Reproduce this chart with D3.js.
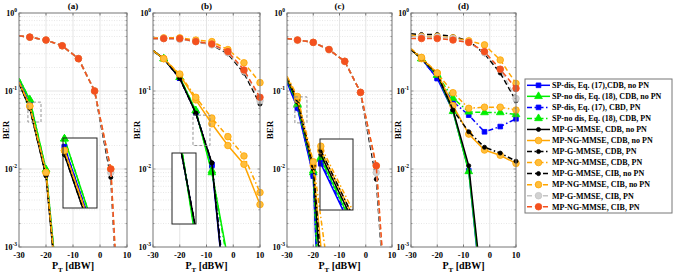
<!DOCTYPE html>
<html>
<head>
<meta charset="utf-8">
<script src="https://cdn.jsdelivr.net/npm/d3@7"></script>
<style>
body { margin: 0; background: #fff; }
text { font-family: "Liberation Serif", "Times New Roman", serif; font-weight: bold; fill: #000; }
</style>
</head>
<body>
<svg id="chart"></svg>
<script>
// transmit power points (dBW)
const powerDbw = [-30, -26, -20, -14, -8, -2, 4, 10];

const seriesNames = [
    'SP-dis, Eq. (17),CDB, no PN',
    'SP-no dis, Eq. (18), CDB, no PN',
    'SP-dis, Eq. (17), CBD, PN',
    'SP-no dis, Eq. (18), CDB, PN',
    'MP-G-MMSE, CDB, no PN',
    'MP-NG-MMSE, CDB, no PN',
    'MP-G-MMSE, CDB, PN',
    'MP-NG-MMSE, CDB, PN',
    'MP-G-MMSE, CIB, no PN',
    'MP-NG-MMSE, CIB, no PN',
    'MP-G-MMSE, CIB, PN',
    'MP-NG-MMSE, CIB, PN'
];

const panelTitles = ['(a)', '(b)', '(c)', '(d)'];
const xTicks = [-30, -20, -10, 0, 10];
const yTicks = [1e-3, 1e-2, 1e-1, 1];
const yExponents = ['-3', '-2', '-1', '0'];

// BER per panel, one row per series (legend order), null = off the chart
const berA = [
    [0.135, 0.068, 0.0092, 6e-5, null, null, null, null],
    [0.145, 0.077, 0.0098, 7e-5, null, null, null, null],
    [0.135, 0.068, 0.0092, 6e-5, null, null, null, null],
    [0.145, 0.077, 0.0098, 7e-5, null, null, null, null],
    [0.125, 0.060, 0.0082, 5e-5, null, null, null, null],
    [0.130, 0.064, 0.0090, 5.5e-5, null, null, null, null],
    [0.125, 0.060, 0.0082, 5e-5, null, null, null, null],
    [0.130, 0.064, 0.0090, 5.5e-5, null, null, null, null],
    [0.51, 0.49, 0.45, 0.38, 0.26, 0.10, 0.0078, 1e-6],
    [0.51, 0.49, 0.45, 0.38, 0.26, 0.10, 0.010, 1.2e-6],
    [0.51, 0.49, 0.45, 0.38, 0.26, 0.10, 0.009, 1e-6],
    [0.51, 0.49, 0.45, 0.38, 0.26, 0.10, 0.010, 1.2e-6]
];
const berB = [
    [0.33, 0.26, 0.146, 0.053, 0.011, 1e-4, null, null],
    [0.33, 0.26, 0.150, 0.056, 0.009, 7e-4, 1e-6, null],
    [0.33, 0.26, 0.146, 0.053, 0.0115, 1.5e-4, null, null],
    [0.33, 0.26, 0.150, 0.056, 0.0095, 6e-4, 1e-6, null],
    [0.33, 0.26, 0.146, 0.052, 0.012, 1e-4, null, null],
    [0.33, 0.26, 0.160, 0.077, 0.038, 0.020, 0.0115, 0.0035],
    [0.33, 0.26, 0.146, 0.052, 0.012, 1.2e-4, null, null],
    [0.33, 0.26, 0.165, 0.083, 0.045, 0.026, 0.0147, 0.0050],
    [0.47, 0.47, 0.47, 0.43, 0.39, 0.30, 0.17, 0.068],
    [0.48, 0.48, 0.48, 0.45, 0.43, 0.34, 0.23, 0.128],
    [0.47, 0.47, 0.46, 0.43, 0.39, 0.31, 0.18, 0.075],
    [0.47, 0.47, 0.47, 0.43, 0.40, 0.32, 0.186, 0.083]
];
const berC = [
    [0.13, 0.060, 0.0081, 1e-7, null, null, null, null],
    [0.14, 0.066, 0.0090, 3e-7, null, null, null, null],
    [0.13, 0.062, 0.0085, 1e-7, null, null, null, null],
    [0.14, 0.068, 0.0095, 1e-6, null, null, null, null],
    [0.145, 0.072, 0.0100, 1e-5, null, null, null, null],
    [0.15, 0.078, 0.0110, 8e-5, null, null, null, null],
    [0.15, 0.078, 0.0110, 3e-5, null, null, null, null],
    [0.155, 0.085, 0.0124, 4e-4, null, null, null, null],
    [0.47, 0.45, 0.42, 0.34, 0.24, 0.096, 0.0074, 1e-5],
    [0.47, 0.45, 0.42, 0.34, 0.24, 0.096, 0.011, 1e-5],
    [0.47, 0.45, 0.42, 0.34, 0.24, 0.096, 0.009, 1e-5],
    [0.47, 0.45, 0.42, 0.34, 0.24, 0.096, 0.011, 1.5e-5]
];
const berD = [
    [0.34, 0.26, 0.145, 0.055, 0.0095, 1e-4, null, null],
    [0.34, 0.26, 0.160, 0.055, 0.0093, 1.2e-4, null, null],
    [0.34, 0.26, 0.145, 0.073, 0.049, 0.030, 0.035, 0.044],
    [0.34, 0.26, 0.160, 0.081, 0.054, 0.053, 0.053, 0.050],
    [0.34, 0.26, 0.165, 0.057, 0.011, 1.5e-4, null, null],
    [0.34, 0.26, 0.170, 0.065, 0.028, 0.0175, 0.015, 0.0118],
    [0.34, 0.26, 0.165, 0.057, 0.030, 0.019, 0.016, 0.0126],
    [0.35, 0.27, 0.170, 0.095, 0.060, 0.062, 0.062, 0.057],
    [0.54, 0.53, 0.53, 0.50, 0.44, 0.30, 0.17, 0.075],
    [0.52, 0.50, 0.50, 0.48, 0.44, 0.39, 0.25, 0.125],
    [0.50, 0.49, 0.49, 0.47, 0.42, 0.31, 0.19, 0.080],
    [0.47, 0.47, 0.47, 0.45, 0.42, 0.32, 0.19, 0.108]
];
const panelData = [berA, berB, berC, berD];

// look of each series
const styles = [
    { color: '#0000ff', dash: null, marker: 'square' },
    { color: '#00ee00', dash: null, marker: 'triangle' },
    { color: '#0000ff', dash: '5,2.5,1.5,2.5', marker: 'square' },
    { color: '#00ee00', dash: '5,2.5,1.5,2.5', marker: 'triangle' },
    { color: '#000000', dash: null, marker: 'dot' },
    { color: '#ffa500', dash: null, marker: 'circle' },
    { color: '#000000', dash: '5,2.5,1.5,2.5', marker: 'dot' },
    { color: '#ffa500', dash: '5,2.5,1.5,2.5', marker: 'circle' },
    { color: '#000000', dash: '5,3', marker: 'dot' },
    { color: '#ffa500', dash: '5,3', marker: 'circle' },
    { color: '#c4c4c4', dash: '5,3', marker: 'circle' },
    { color: '#f4511e', dash: '5,3', marker: 'circle' }
];

const W = 675, H = 278;
const plotTop = 13, plotBottom = 247;
const panels = [
    { left: 19, right: 127, labelDx: 10,
      src: { x: [-26.7, -21.85], y: [0.072, 0.040] },
      inset: { box: [63, 138, 97, 208], x: [-26.2, -21.5], y: [0.078, 0.026] } },
    { left: 153, right: 260, labelDx: 13,
      src: { x: [-15.05, -8.7], y: [0.049, 0.020] },
      inset: { box: [172, 153, 196, 224], x: [-16, -10.5], y: [0.05, 0.0235] } },
    { left: 287, right: 392, labelDx: 14,
      src: { x: [-27.0, -22.4], y: [0.084, 0.039] },
      inset: { box: [320, 139, 353, 210], x: [-26.1, -22], y: [0.098, 0.024] } },
    { left: 411, right: 516, labelDx: 10, src: null, inset: null }
];

const svg = d3.select('#chart').attr('width', W).attr('height', H);
const defs = svg.append('defs');

function markerPath(kind) {
    if (kind === 'square') return d3.symbol(d3.symbolSquare, 22)();
    if (kind === 'triangle') return d3.symbol(d3.symbolTriangle, 26)();
    if (kind === 'dot') return d3.symbol(d3.symbolCircle, 13)();
    return d3.symbol(d3.symbolCircle, 34)();
}
function markerFill(s) {
    if (s.color === '#ffa500') return '#ffbe3c';
    if (s.color === '#c4c4c4') return '#d2d2d2';
    return s.color;
}

function drawSeries(g, xs, ys, data, clipId) {
    const [x0, x1] = xs.domain();
    const [ya, yb] = ys.domain();
    const yMin = Math.min(ya, yb), yMax = Math.max(ya, yb);
    data.forEach((vals, i) => {
        const s = styles[i];
        const pts = powerDbw.map((p, k) => ({ p, v: vals[k], k })).filter(d => d.v != null);
        const line = d3.line().x(d => xs(d.p)).y(d => ys(d.v));
        g.append('path')
            .attr('d', line(pts))
            .attr('clip-path', `url(#${clipId})`)
            .style('fill', 'none')
            .style('stroke', s.color)
            .style('stroke-width', 1.5)
            .style('stroke-dasharray', s.dash);
        pts.filter(d => d.k > 0 && d.p >= x0 && d.p <= x1 && d.v >= yMin && d.v <= yMax)
            .forEach(d => {
                g.append('path')
                    .attr('d', markerPath(s.marker))
                    .attr('transform', `translate(${xs(d.p)},${ys(d.v)})`)
                    .style('fill', markerFill(s))
                    .style('stroke', s.color)
                    .style('stroke-width', 0.8);
            });
    });
}

panels.forEach((pn, pi) => {
    const g = svg.append('g');
    const x = d3.scaleLinear().domain([-30, 10]).range([pn.left, pn.right]);
    const y = d3.scaleLog().domain([1e-3, 1]).range([plotBottom, plotTop]);

    g.append('rect')
        .attr('x', pn.left).attr('y', plotTop)
        .attr('width', pn.right - pn.left).attr('height', plotBottom - plotTop)
        .style('fill', '#fff');

    // minor grid
    const minors = [];
    [1e-3, 1e-2, 1e-1].forEach(b => { for (let m = 2; m <= 9; m++) minors.push(b * m); });
    g.selectAll('.minor').data(minors).enter().append('line')
        .attr('x1', pn.left).attr('x2', pn.right)
        .attr('y1', d => y(d)).attr('y2', d => y(d))
        .style('stroke', '#d8d8d8').style('stroke-width', 0.6)
        .style('stroke-dasharray', '1,1.5');
    // major grid
    g.selectAll('.gy').data([1e-2, 1e-1]).enter().append('line')
        .attr('x1', pn.left).attr('x2', pn.right)
        .attr('y1', d => y(d)).attr('y2', d => y(d))
        .style('stroke', '#dedede').style('stroke-width', 0.8);
    g.selectAll('.gx').data([-20, -10, 0]).enter().append('line')
        .attr('x1', d => x(d)).attr('x2', d => x(d))
        .attr('y1', plotTop).attr('y2', plotBottom)
        .style('stroke', '#dedede').style('stroke-width', 0.8);

    const clipId = 'clip' + pi;
    defs.append('clipPath').attr('id', clipId).append('rect')
        .attr('x', pn.left).attr('y', plotTop)
        .attr('width', pn.right - pn.left).attr('height', plotBottom - plotTop);

    drawSeries(g, x, y, panelData[pi], clipId);

    // source rectangle of the zoom
    if (pn.src) {
        g.append('rect')
            .attr('x', x(pn.src.x[0])).attr('y', y(pn.src.y[0]))
            .attr('width', x(pn.src.x[1]) - x(pn.src.x[0]))
            .attr('height', y(pn.src.y[1]) - y(pn.src.y[0]))
            .style('fill', 'none').style('stroke', '#888')
            .style('stroke-width', 0.9).style('stroke-dasharray', '3,2');
    }
    if (pn.inset) {
        const b = pn.inset.box;
        const ix = d3.scaleLinear().domain(pn.inset.x).range([b[0], b[2]]);
        const iy = d3.scaleLog().domain([pn.inset.y[1], pn.inset.y[0]]).range([b[3], b[1]]);
        const ig = g.append('g');
        ig.append('rect').attr('x', b[0]).attr('y', b[1])
            .attr('width', b[2] - b[0]).attr('height', b[3] - b[1])
            .style('fill', '#fff');
        const iclip = 'iclip' + pi;
        defs.append('clipPath').attr('id', iclip).append('rect')
            .attr('x', b[0]).attr('y', b[1])
            .attr('width', b[2] - b[0]).attr('height', b[3] - b[1]);
        drawSeries(ig, ix, iy, panelData[pi].slice(0, 8), iclip);
        ig.append('rect').attr('x', b[0]).attr('y', b[1])
            .attr('width', b[2] - b[0]).attr('height', b[3] - b[1])
            .style('fill', 'none').style('stroke', '#222').style('stroke-width', 1);
    }

    // box
    g.append('rect')
        .attr('x', pn.left).attr('y', plotTop)
        .attr('width', pn.right - pn.left).attr('height', plotBottom - plotTop)
        .style('fill', 'none').style('stroke', '#777').style('stroke-width', 1);

    // ticks inside the box
    const tl = 2.5;
    xTicks.forEach(t => {
        g.append('line').attr('x1', x(t)).attr('x2', x(t)).attr('y1', plotBottom).attr('y2', plotBottom - tl)
            .style('stroke', '#777');
        g.append('line').attr('x1', x(t)).attr('x2', x(t)).attr('y1', plotTop).attr('y2', plotTop + tl)
            .style('stroke', '#777');
    });
    minors.concat(yTicks).forEach(t => {
        const len = yTicks.includes(t) ? tl : 1.5;
        g.append('line').attr('x1', pn.left).attr('x2', pn.left + len).attr('y1', y(t)).attr('y2', y(t))
            .style('stroke', '#777').style('stroke-width', 0.7);
        g.append('line').attr('x1', pn.right).attr('x2', pn.right - len).attr('y1', y(t)).attr('y2', y(t))
            .style('stroke', '#777').style('stroke-width', 0.7);
    });

    // tick labels
    g.selectAll('.xt').data(xTicks).enter().append('text')
        .attr('x', d => x(d)).attr('y', 258)
        .attr('text-anchor', 'middle').style('font-size', '8.5px')
        .text(d => d);
    yTicks.forEach((t, k) => {
        const tx = g.append('text')
            .attr('x', pn.left - 2).attr('y', y(t) + 3)
            .attr('text-anchor', 'end').style('font-size', '8px');
        tx.append('tspan').text('10');
        tx.append('tspan').attr('dy', -4).style('font-size', '5.5px').text(yExponents[k]);
    });

    // titles and axis labels
    const cx = (pn.left + pn.right) / 2;
    g.append('text').attr('x', cx).attr('y', 8.5)
        .attr('text-anchor', 'middle').style('font-size', '9px')
        .text(panelTitles[pi]);
    const xl = g.append('text').attr('x', cx).attr('y', 269)
        .attr('text-anchor', 'middle').style('font-size', '10px');
    xl.append('tspan').text('P');
    xl.append('tspan').attr('dy', 2.5).style('font-size', '7px').text('T');
    xl.append('tspan').attr('dy', -2.5).text(' [dBW]');
    g.append('text')
        .attr('transform', `translate(${pn.left - pn.labelDx},130) rotate(-90)`)
        .attr('text-anchor', 'middle').style('font-size', '9px')
        .text('BER');
});

// legend
const lg = svg.append('g');
const lx = 525, ly = 79, lw = 147, lh = 134, step = 11.04;
lg.append('rect').attr('x', lx).attr('y', ly).attr('width', lw).attr('height', lh)
    .style('fill', '#fff').style('stroke', '#777').style('stroke-width', 1);
seriesNames.forEach((name, i) => {
    const s = styles[i];
    const yy = ly + 6.3 + i * step;
    lg.append('line').attr('x1', lx + 2).attr('x2', lx + 25).attr('y1', yy).attr('y2', yy)
        .style('stroke', s.color).style('stroke-width', 1.5)
        .style('stroke-dasharray', s.dash);
    lg.append('path').attr('d', markerPath(s.marker))
        .attr('transform', `translate(${lx + 13.5},${yy})`)
        .style('fill', markerFill(s)).style('stroke', s.color).style('stroke-width', 0.8);
    lg.append('text').attr('x', lx + 27).attr('y', yy + 2.8)
        .style('font-size', '8px').text(name);
});
</script>
</body>
</html>
